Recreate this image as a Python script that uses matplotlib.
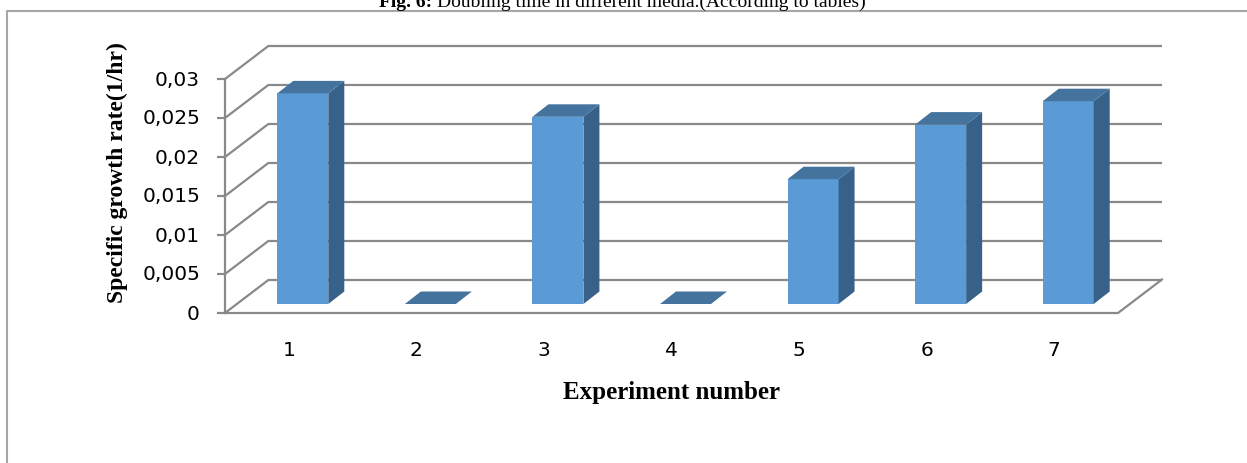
import matplotlib
matplotlib.use("Agg")
import matplotlib.pyplot as plt
from matplotlib.patches import Polygon
from matplotlib.lines import Line2D

# ---- data ----
experiments = ["1", "2", "3", "4", "5", "6", "7"]
growth_rate = [0.027, 0.0, 0.024, 0.0, 0.016, 0.023, 0.026]
y_ticks = [0, 0.005, 0.01, 0.015, 0.02, 0.025, 0.03]
y_tick_labels = ["0", "0,005", "0,01", "0,015", "0,02", "0,025", "0,03"]
title_bold = "Fig. 6:"
title_rest = "Doubling time in different media.(According to tables)"
x_title = "Experiment number"
y_title = "Specific growth rate(1/hr)"

# ---- canvas ----
W, H, DPI = 1247, 464, 100
fig = plt.figure(figsize=(W / DPI, H / DPI), dpi=DPI)
ax = fig.add_axes([0, 0, 1, 1])
ax.axis("off")

# front plane of the 3-D box, in pixels
X0, X1 = 225, 1118
Y0, Y1 = 314, 80
n = len(experiments)
ymax = y_ticks[-1]
sx = (X1 - X0) / n          # pixels per category
sy = (Y0 - Y1) / ymax       # pixels per unit of growth rate
ax.set_xlim(-0.5 - X0 / sx, -0.5 + (W - X0) / sx)
ax.set_ylim(-(H - Y0) / sy, ymax + Y1 / sy)


def px_x(p):
    return p / sx


def px_y(p):
    return p / sy


# depth of the box and of the columns
DX, DY = px_x(44), px_y(33.5)
FDX, FDY = px_x(14), px_y(9)       # column front face offset
BDX, BDY = px_x(16), px_y(12.5)    # column depth
BW = px_x(51)

grid_c = "#898989"
glw = 1.6

# back wall gridlines, side wall lines and ticks
for t in y_ticks:
    ax.plot([-0.5 + DX, n - 0.5 + DX], [t + DY, t + DY], color=grid_c,
            lw=glw, solid_capstyle="butt", zorder=1)
    ax.plot([-0.5, -0.5 + DX], [t, t + DY], color=grid_c, lw=glw,
            solid_capstyle="butt", zorder=1)
    ax.plot([-0.5 - px_x(8), -0.5], [t, t], color=grid_c, lw=glw,
            solid_capstyle="butt", zorder=1)
# front vertical axis
ax.plot([-0.5, -0.5], [0, ymax], color=grid_c, lw=glw, zorder=1)
# floor outline
ax.plot([-0.5, n - 0.5, n - 0.5 + DX], [0, 0, DY], color=grid_c, lw=glw,
        zorder=1, solid_joinstyle="miter")

front_c = "#5b9bd5"
side_c = "#386189"
top_c = "#44739e"

for i, v in enumerate(growth_rate):
    xl = i - BW / 2 + FDX
    xr = xl + BW
    yb = FDY
    yt = FDY + v
    if v > 0:
        ax.add_patch(Polygon([(xl, yb), (xr, yb), (xr, yt), (xl, yt)],
                             closed=True, fc=front_c, ec="none", zorder=3))
        ax.add_patch(Polygon([(xr, yb), (xr + BDX, yb + BDY),
                              (xr + BDX, yt + BDY), (xr, yt)],
                             closed=True, fc=side_c, ec="none", zorder=3))
    ax.add_patch(Polygon([(xl, yt), (xr, yt), (xr + BDX, yt + BDY),
                          (xl + BDX, yt + BDY)],
                         closed=True, fc=top_c, ec="none", zorder=3))

# tick labels
num_font = dict(family="DejaVu Sans", fontsize=14.5, color="black")
for t, lab in zip(y_ticks, y_tick_labels):
    ax.text(-0.5 - px_x(25), t, lab, ha="right", va="center", **num_font)
for i, lab in enumerate(experiments):
    ax.text(i, -px_y(351 - Y0), lab, ha="center", va="center", **num_font)

serif = "Liberation Serif"
ax.text((n - 1) / 2, -px_y(399 - Y0), x_title, ha="center", va="baseline",
        family=serif, fontweight="bold", fontsize=18)
ax.text(-0.5 - px_x(225 - 117.5), ymax - px_y(173 - Y1), y_title,
        rotation=90, ha="center", va="center", family=serif,
        fontweight="bold", fontsize=17)

# heading, partly above the frame
fig.text(432 / W, 1 - 7 / H, title_bold, ha="right", va="baseline",
         family=serif, fontweight="bold", fontsize=14)
fig.text(437 / W, 1 - 7 / H, title_rest, ha="left", va="baseline",
         family=serif, fontsize=14)

# outer frame
frame_c = "#a6a6a6"
fig.add_artist(Line2D([6.5 / W, 6.5 / W, 1.0], [0, 1 - 11.5 / H, 1 - 11.5 / H],
                      transform=fig.transFigure, color=frame_c, lw=1.5))

fig.savefig("out.png", dpi=DPI)
